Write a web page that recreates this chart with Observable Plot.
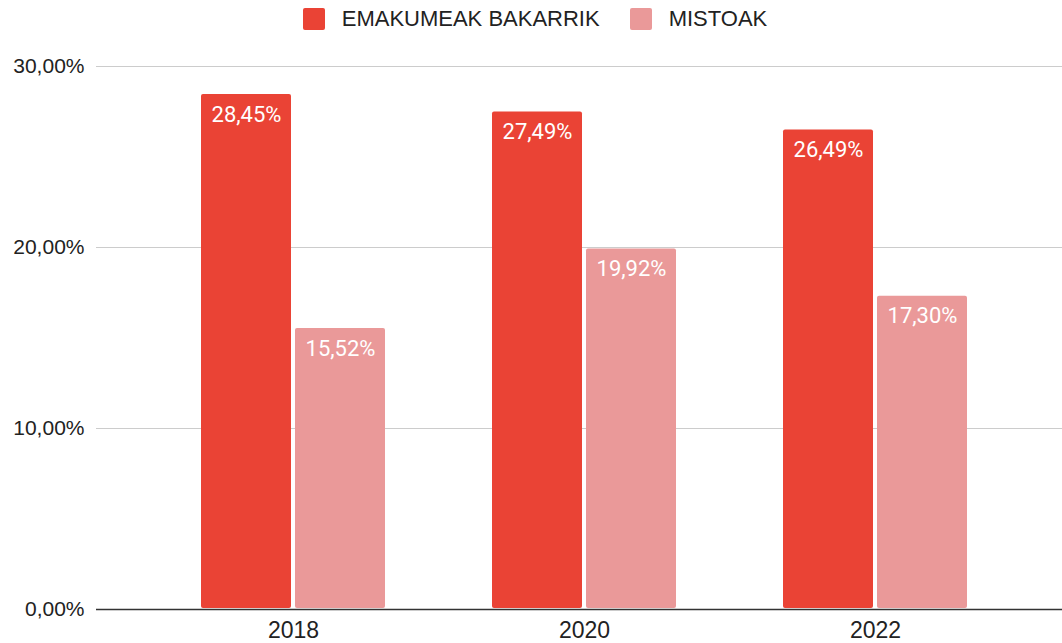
<!DOCTYPE html>
<html>
<head>
<meta charset="utf-8">
<script src="https://cdn.jsdelivr.net/npm/d3@7"></script>
<script src="https://cdn.jsdelivr.net/npm/@observablehq/plot@0.6"></script>
<style>
  html, body { margin: 0; padding: 0; background: white; }
  #legend { height: 37px; display: flex; justify-content: center; align-items: center; font-family: "Liberation Sans", Arial, sans-serif; font-size: 22px; color: #222; padding-left: 8px; }
  .item { display: flex; align-items: center; margin: 0 15px; }
  .sw { width: 22px; height: 22px; border-radius: 2px; margin-right: 17px; }
  #chart { position: relative; width: 1062px; height: 606px; }
  #chart svg { position: absolute; left: 0; top: 0; overflow: visible; }
</style>
</head>
<body>
<div id="legend"></div>
<div id="chart"></div>
<script>
const years = ["2018", "2020", "2022"];
const seriesNames = ["EMAKUMEAK BAKARRIK", "MISTOAK"];
const emakumeak = [28.45, 27.49, 26.49];
const mistoak = [15.52, 19.92, 17.30];
const yTicks = [0, 10, 20, 30];
const colors = ["#EA4335", "#EA9999"];

const data = [];
years.forEach((y, i) => {
  data.push({year: y, series: seriesNames[0], value: emakumeak[i]});
  data.push({year: y, series: seriesNames[1], value: mistoak[i]});
});

const fmt = v => v.toFixed(2).replace(".", ",") + "%";

// legend
const legend = document.getElementById("legend");
seriesNames.forEach((s, i) => {
  const it = document.createElement("div");
  it.className = "item";
  it.innerHTML = `<div class="sw" style="background:${colors[i]}"></div><span>${s}</span>`;
  legend.appendChild(it);
});

const W = 1062, H = 606;
const common = {
  width: W, height: H,
  marginLeft: 96, marginRight: 0, marginTop: 29, marginBottom: 34
};
const fxRange = [201, 967];
const fxPad = 107 / 291;

const back = Plot.plot({
  ...common,
  style: {fontFamily: "'Liberation Sans', Arial, sans-serif", fontSize: "21px", color: "#222", background: "white"},
  x: {type: "band", domain: years, range: fxRange, paddingInner: fxPad, paddingOuter: 0, label: null},
  y: {domain: [0, 30], label: null},
  marks: [
    Plot.ruleY(yTicks.filter(d => d > 0), {stroke: "#cccccc", strokeWidth: 1}),
    Plot.axisY(yTicks, {tickSize: 0, tickPadding: 12, tickFormat: fmt, label: null, fill: "#222"}),
    Plot.axisX(years, {tickSize: 0, tickPadding: 12, label: null, fill: "#222", fontSize: 23}),
    Plot.ruleY([0], {stroke: "#333", strokeWidth: 1.5})
  ]
});

const front = Plot.plot({
  ...common,
  style: {fontFamily: "Roboto, 'Liberation Sans', sans-serif", fontSize: "22px", background: "transparent"},
  fx: {domain: years, range: fxRange, paddingInner: fxPad, paddingOuter: 0, axis: null, label: null},
  x: {domain: seriesNames, paddingInner: 4 / 94, paddingOuter: 0, axis: null, label: null},
  y: {domain: [0, 30], axis: null, label: null},
  color: {domain: seriesNames, range: colors},
  marks: [
    Plot.barY(data, {fx: "year", x: "series", y: "value", fill: "series", rx: 2, insetBottom: 1}),
    Plot.text(data, {fx: "year", x: "series", y: "value", text: d => fmt(d.value), fill: "white", dy: 20, lineAnchor: "middle", fontWeight: 400})
  ]
});

const chart = document.getElementById("chart");
chart.appendChild(back);
chart.appendChild(front);
</script>
</body>
</html>
